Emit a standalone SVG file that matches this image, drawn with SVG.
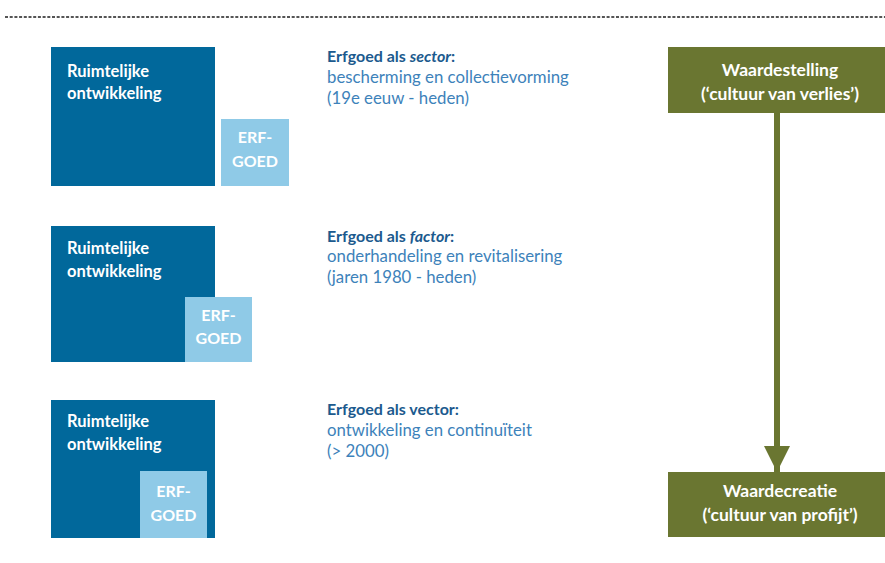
<svg xmlns="http://www.w3.org/2000/svg" width="885" height="563" viewBox="0 0 885 563">
  <style>
    .dark { fill: #01689b; }
    .light { fill: #8fcae7; }
    .green { fill: #6a7631; }
    .lbl { font-family: Lato, "Open Sans", "Liberation Sans", sans-serif; font-weight: bold; font-size: 16.5px; fill: #ffffff; }
    .erf { font-family: Lato, "Open Sans", "Liberation Sans", sans-serif; font-weight: bold; font-size: 16px; fill: #ffffff; text-anchor: middle; }
    .glbl { font-family: Lato, "Open Sans", "Liberation Sans", sans-serif; font-weight: bold; font-size: 17.5px; fill: #ffffff; text-anchor: middle; }
    .title { font-family: Lato, "Open Sans", "Liberation Sans", sans-serif; font-weight: bold; font-size: 16px; fill: #1c5a8e; }
    .body { font-family: Lato, "Open Sans", "Liberation Sans", sans-serif; font-size: 16.8px; fill: #3d82ba; }
  </style>
  <defs>
    <marker id="arrowHead" viewBox="0 0 26 26" refX="26" refY="13" markerUnits="userSpaceOnUse" markerWidth="26" markerHeight="26" orient="auto">
      <path d="M0,0 L26,13 L0,26 Z" fill="#6a7631"/>
    </marker>
  </defs>

  <rect width="885" height="563" fill="#ffffff"/>

  <!-- top rule -->
  <line x1="5" y1="17" x2="885" y2="17" stroke="#555555" stroke-width="2" stroke-dasharray="3 1.7"/>

  <!-- row 1: heritage beside spatial development -->
  <g id="row-sector">
    <rect class="dark" x="51" y="47" width="164" height="139"/>
    <text class="lbl" x="67" y="77">Ruimtelijke</text>
    <text class="lbl" x="67" y="99">ontwikkeling</text>
    <rect class="light" x="221" y="119" width="68" height="67"/>
    <text class="erf" x="255" y="143">ERF-</text>
    <text class="erf" x="255" y="167">GOED</text>
  </g>

  <!-- row 2: heritage overlapping -->
  <g id="row-factor">
    <rect class="dark" x="51" y="226" width="164" height="136"/>
    <text class="lbl" x="67" y="254">Ruimtelijke</text>
    <text class="lbl" x="67" y="277">ontwikkeling</text>
    <rect class="light" x="185" y="297" width="67" height="65"/>
    <text class="erf" x="218.5" y="321">ERF-</text>
    <text class="erf" x="218.5" y="344">GOED</text>
  </g>

  <!-- row 3: heritage inside -->
  <g id="row-vector">
    <rect class="dark" x="51" y="400" width="164" height="138"/>
    <text class="lbl" x="67" y="427">Ruimtelijke</text>
    <text class="lbl" x="67" y="450">ontwikkeling</text>
    <rect class="light" x="140" y="471" width="67" height="67"/>
    <text class="erf" x="173.5" y="497">ERF-</text>
    <text class="erf" x="173.5" y="521">GOED</text>
  </g>

  <!-- descriptions -->
  <g id="text-sector">
    <text class="title" x="327" y="62">Erfgoed als <tspan font-style="italic">sector</tspan>:</text>
    <text class="body" x="327" y="83">bescherming en collectievorming</text>
    <text class="body" x="327" y="104">(19e eeuw - heden)</text>
  </g>
  <g id="text-factor">
    <text class="title" x="327" y="242">Erfgoed als <tspan font-style="italic">factor</tspan>:</text>
    <text class="body" x="327" y="262">onderhandeling en revitalisering</text>
    <text class="body" x="327" y="283">(jaren 1980 - heden)</text>
  </g>
  <g id="text-vector">
    <text class="title" x="327" y="415">Erfgoed als vector:</text>
    <text class="body" x="327" y="436">ontwikkeling en continuïteit</text>
    <text class="body" x="327" y="457">(&gt; 2000)</text>
  </g>

  <!-- value boxes -->
  <g id="waardestelling">
    <rect class="green" x="668" y="47" width="217" height="66"/>
    <text class="glbl" x="780" y="76">Waardestelling</text>
    <text class="glbl" x="780" y="100">(‘cultuur van verlies’)</text>
  </g>
  <g id="waardecreatie">
    <rect class="green" x="668" y="472" width="217" height="65"/>
    <text class="glbl" x="780" y="497">Waardecreatie</text>
    <text class="glbl" x="780" y="521">(‘cultuur van profijt’)</text>
  </g>

  <!-- connectors -->
  <g id="connectors">
    <line x1="777" y1="113" x2="777" y2="472" stroke="#6a7631" stroke-width="6" marker-end="url(#arrowHead)"/>
  </g>
</svg>
